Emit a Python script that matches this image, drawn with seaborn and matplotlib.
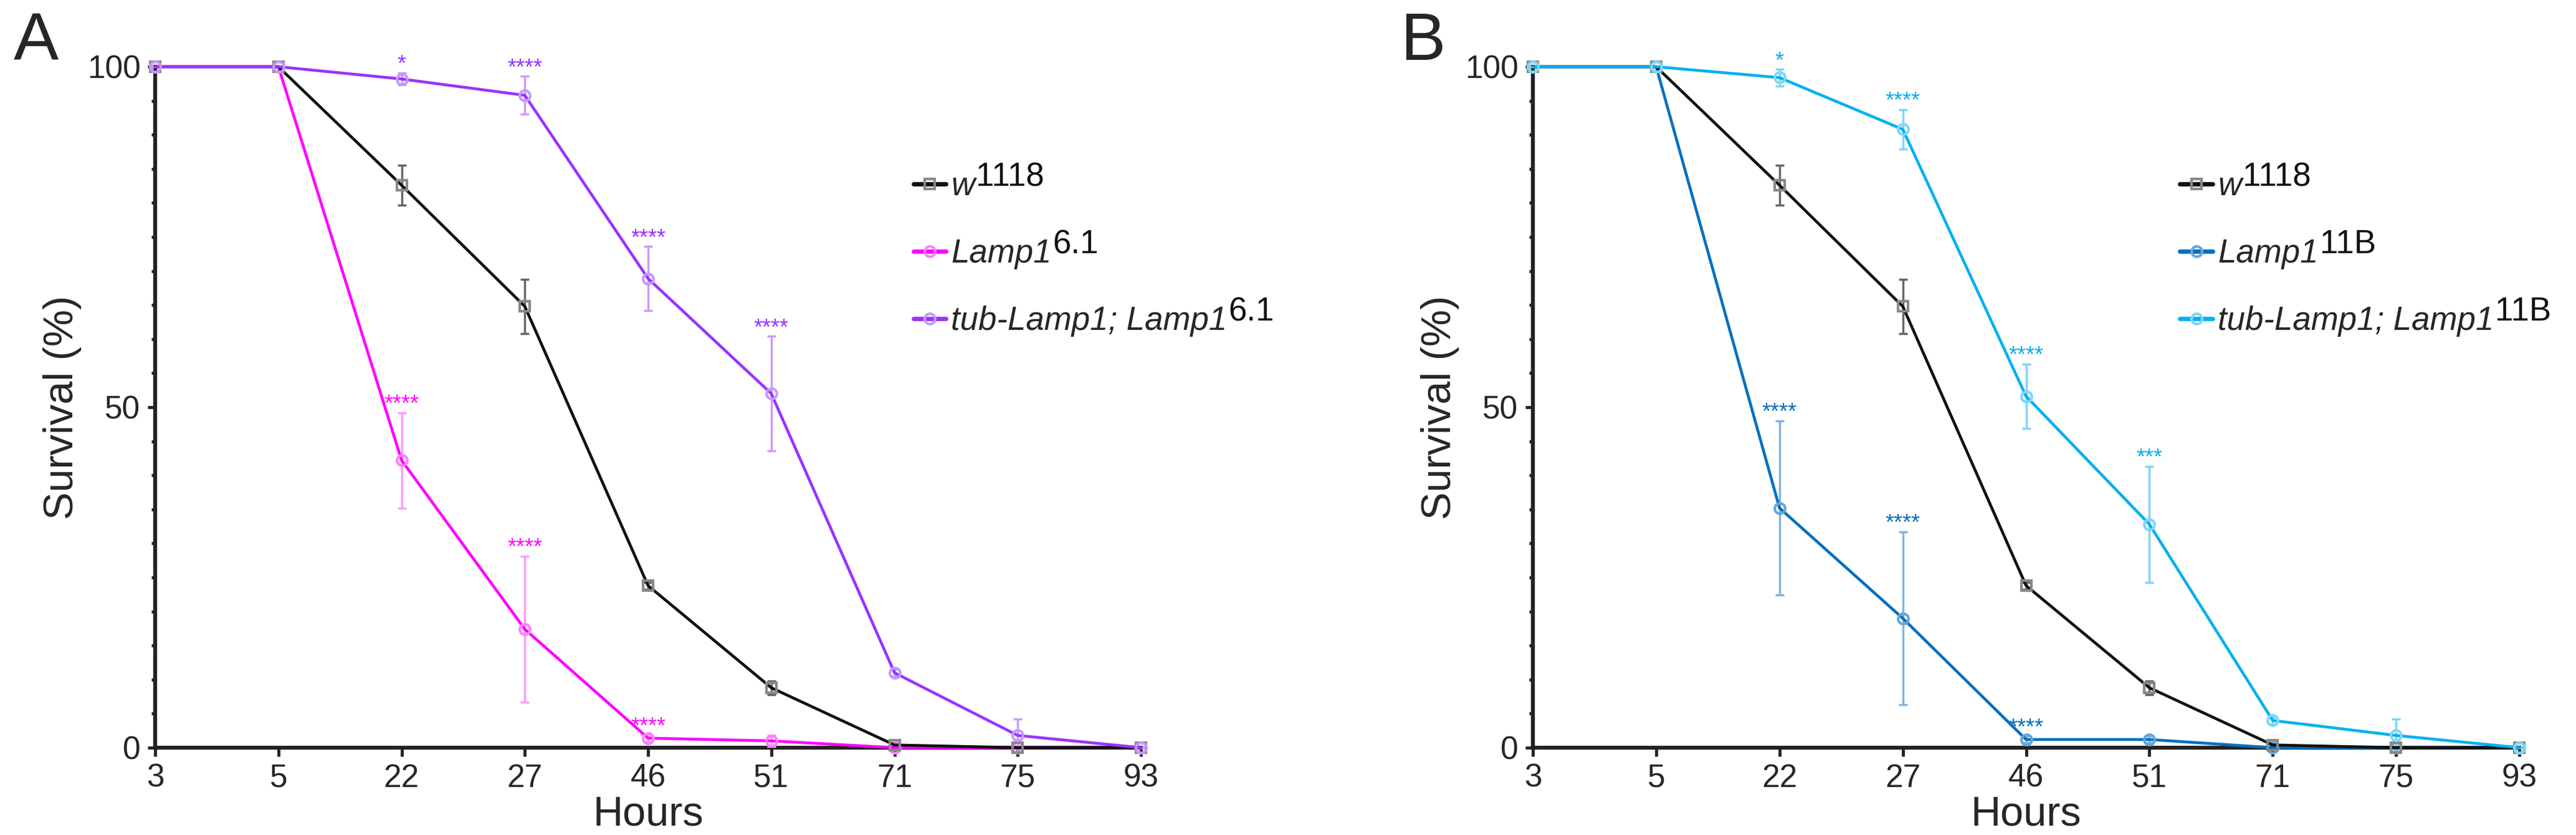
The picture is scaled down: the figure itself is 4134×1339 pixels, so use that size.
import matplotlib
matplotlib.use("Agg")
import matplotlib.pyplot as plt
from matplotlib.lines import Line2D
from matplotlib.ticker import MultipleLocator
import numpy as np
import pandas as pd
import seaborn as sns

sns.set_theme(style="ticks")
plt.rcParams["font.family"] = ["Liberation Sans", "DejaVu Sans"]

# shared time points (categorical axis)
hours = ["3", "5", "22", "27", "46", "51", "71", "75", "93"]

# control, same in both panels
w1118 = [100, 100, 82.6, 64.8, 23.8, 8.8, 0.4, 0, 0]
w1118_err = [0, 0, 2.9, 4.0, 0.5, 1.0, 0.3, 0, 0]

# panel A
lamp61 = [100, 100, 42.2, 17.4, 1.4, 1.0, 0, 0, 0]
lamp61_err = [0, 0, 7.0, 10.7, 0.5, 0.8, 0, 0, 0]
rescue61 = [100, 100, 98.2, 95.8, 68.9, 52.0, 11.0, 1.8, 0]
rescue61_err = [0, 0, 0.9, 2.8, 4.7, 8.4, 0.5, 2.4, 0]
lamp61_stars = ["", "", "****", "****", "****", "", "", "", ""]
rescue61_stars = ["", "", "*", "****", "****", "****", "", "", ""]

# panel B
lamp11b = [100, 100, 35.2, 19.0, 1.2, 1.2, 0, 0, 0]
lamp11b_err = [0, 0, 12.8, 12.7, 0.5, 0.5, 0, 0, 0]
rescue11b = [100, 100, 98.4, 90.8, 51.6, 32.8, 4.0, 1.8, 0]
rescue11b_err = [0, 0, 1.2, 2.9, 4.7, 8.5, 0.5, 2.4, 0]
lamp11b_stars = ["", "", "****", "****", "****", "", "", "", ""]
rescue11b_stars = ["", "", "*", "****", "****", "***", "", "", ""]

W, H = 4134, 1339
fig = plt.figure(figsize=(W / 100, H / 100), dpi=100)

TICK_FS = 37
LAB_FS = 48
LEG_FS = 38

legends = []


def draw_panel(ax, series, legend_x, letter, letter_x):
    pos = np.arange(len(hours))
    for s in series:
        df = pd.DataFrame({"pos": pos, "surv": s["y"]})
        ax.errorbar(pos, s["y"], yerr=s["err"], fmt="none", ecolor=s["ecolor"],
                    elinewidth=2.5, capsize=5, capthick=2.5, clip_on=False, zorder=2)
        sns.lineplot(data=df, x="pos", y="surv", ax=ax, color=s["color"],
                     lw=3.3, marker=s["marker"], ms=12, mfc="none", mec=s["mcolor"],
                     mew=3, clip_on=False, zorder=s["z"], legend=False)
        for i, st in enumerate(s.get("stars", [])):
            if st:
                ax.annotate(st, xy=(pos[i], s["y"][i] + s["err"][i]),
                            xytext=(0, 2), textcoords="offset points",
                            ha="center", va="baseline", fontsize=26,
                            color=s["color"], zorder=6)

    ax.set_xlim(0, len(hours) - 1)
    ax.set_ylim(0, 100)
    ax.set_xticks(pos)
    ax.set_xticklabels(hours)
    ax.set_yticks([0, 50, 100])
    ax.yaxis.set_minor_locator(MultipleLocator(5))
    ax.tick_params(axis="both", which="major", labelsize=TICK_FS, width=3.5,
                   length=9, color="#222222", pad=8)
    ax.tick_params(axis="y", which="minor", width=3.5, length=4, color="#222222")
    ax.tick_params(axis="x", which="major", length=10)
    for side in ["top", "right"]:
        ax.spines[side].set_visible(False)
    for side in ["left", "bottom"]:
        ax.spines[side].set_linewidth(4.5)
        ax.spines[side].set_color("#222222")
        ax.spines[side].set_zorder(1)
    ax.set_xlabel("Hours", fontsize=LAB_FS, labelpad=2)
    ax.set_ylabel("Survival (%)", fontsize=LAB_FS, labelpad=6)

    handles = [Line2D([], [], color=s["color"], lw=5, marker=s["marker"], ms=12,
                      mfc="none", mec=s["mcolor"], mew=3) for s in series]
    leg = ax.legend(handles, [s["label"] for s in series], loc="center left",
                    bbox_to_anchor=(legend_x, 0.725), frameon=False,
                    prop={"size": LEG_FS, "style": "italic"},
                    handlelength=1.0, handletextpad=0.15, labelspacing=1.1,
                    borderpad=0, borderaxespad=0)
    legends.append((leg, [s["sup"] for s in series]))

    fig.text(letter_x, 1 - 96 / H, letter, fontsize=78, va="baseline", ha="left")


ax_a = fig.add_axes([249 / W, 1 - 1199 / H, 1582 / W, 1092 / H])
ax_b = fig.add_axes([2460 / W, 1 - 1199 / H, 1583 / W, 1092 / H])

black = dict(label="w", sup="1118", y=w1118, err=w1118_err, color="#111111",
             mcolor="#888888", ecolor="#666666", marker="s", z=4)

draw_panel(ax_a, [
    black,
    dict(label="Lamp1", sup="6.1", y=lamp61, err=lamp61_err, color="#ff00ff",
         mcolor="#ff80ff", ecolor="#ff99ff", marker="o", z=3, stars=lamp61_stars),
    dict(label="tub-Lamp1; Lamp1", sup="6.1", y=rescue61, err=rescue61_err,
         color="#9933ff", mcolor="#c499ff", ecolor="#cc99ff", marker="o", z=5,
         stars=rescue61_stars),
], 0.769, "A", 22 / W)

draw_panel(ax_b, [
    black,
    dict(label="Lamp1", sup="11B", y=lamp11b, err=lamp11b_err, color="#0070c0",
         mcolor="#66a6d9", ecolor="#7fb4e0", marker="o", z=3, stars=lamp11b_stars),
    dict(label="tub-Lamp1; Lamp1", sup="11B", y=rescue11b, err=rescue11b_err,
         color="#00b0f0", mcolor="#80d7f7", ecolor="#80d4f5", marker="o", z=5,
         stars=rescue11b_stars),
], 0.656, "B", 2247 / W)

# upright superscripts placed right after the italic legend labels
fig.canvas.draw()
renderer = fig.canvas.get_renderer()
for leg, sups in legends:
    for t, sup in zip(leg.get_texts(), sups):
        bb = t.get_window_extent(renderer)
        fig.text((bb.x1 + 2) / W, (bb.y0 + 15) / H, sup, fontsize=LEG_FS,
                 ha="left", va="bottom", color="#111111")

fig.savefig("out.png", dpi=100, facecolor="white")
